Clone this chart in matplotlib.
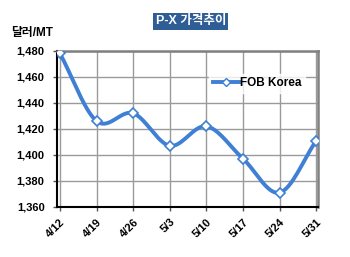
import matplotlib
matplotlib.use("Agg")
import matplotlib.pyplot as plt
import numpy as np

plt.rcParams['font.family'] = ['Liberation Sans', 'Noto Sans CJK KR', 'DejaVu Sans']

# 데이터
dates = ['4/12', '4/19', '4/26', '5/3', '5/10', '5/17', '5/24', '5/31']
fob_korea = [1478, 1426, 1432, 1407, 1422, 1397, 1371, 1411]

blue = '#3f7fd4'


def smooth(xs, ys, n=20):
    # Catmull-Rom 곡선 (엑셀 부드러운 선 흉내)
    xs = np.asarray(xs, float)
    ys = np.asarray(ys, float)
    px = np.concatenate([[2 * xs[0] - xs[1]], xs, [2 * xs[-1] - xs[-2]]])
    py = np.concatenate([[2 * ys[0] - ys[1]], ys, [2 * ys[-1] - ys[-2]]])
    ox, oy = [], []
    t = np.linspace(0, 1, n)
    for i in range(1, len(px) - 2):
        for p, o in ((px, ox), (py, oy)):
            p0, p1, p2, p3 = p[i - 1], p[i], p[i + 1], p[i + 2]
            o.extend(0.5 * (2 * p1 + (-p0 + p2) * t
                            + (2 * p0 - 5 * p1 + 4 * p2 - p3) * t ** 2
                            + (-p0 + 3 * p1 - 3 * p2 + p3) * t ** 3))
    return ox, oy


fig = plt.figure(figsize=(3.5, 2.57), dpi=100)
ax = fig.add_axes([0.163, 0.195, 0.746, 0.607])

x = np.arange(len(dates))
sx, sy = smooth(x, fob_korea)
ax.plot(sx, sy, color=blue, lw=2.8, solid_capstyle='round', zorder=3)
ax.plot(x, fob_korea, ls='none', marker='D', ms=5, mfc='white', mec=blue, mew=1.2, zorder=4)
# 범례용
ax.plot([], [], color=blue, lw=2.8, marker='D', ms=4, mfc='white', mec=blue, label='FOB Korea')

ax.set_xlim(-0.08, 7.05)
ax.set_ylim(1360, 1480)
ax.set_yticks(np.arange(1360, 1481, 20))
ax.set_yticklabels([f'{v:,}' for v in range(1360, 1481, 20)], fontsize=8, fontweight='bold')
ax.set_xticks(x)
ax.set_xticklabels(dates, rotation=45, ha='right', rotation_mode='anchor', fontsize=8, fontweight='bold')
ax.tick_params(axis='both', length=3, width=1, color='#555555')
ax.tick_params(axis='y', pad=6)
ax.tick_params(axis='x', pad=4)

ax.grid(True, color='#9a9a9a', lw=1)
ax.set_axisbelow(True)
for s in ['left', 'bottom']:
    ax.spines[s].set_color('black')
    ax.spines[s].set_linewidth(1.5)
for s in ['top', 'right']:
    ax.spines[s].set_color('#808080')
    ax.spines[s].set_linewidth(1.8)

leg = ax.legend(loc='upper left', bbox_to_anchor=(0.56, 0.89), frameon=True, fancybox=False,
                handlelength=2.2, borderpad=0.3, handletextpad=0.1, prop={'weight': 'bold', 'size': 8.5})
leg.get_frame().set_facecolor('white')
leg.get_frame().set_edgecolor('white')

fig.text(0.545, 0.918, 'P-X 가격추이', ha='center', va='center', color='white', fontsize=9,
         fontweight='bold', bbox=dict(boxstyle='square,pad=0.2', fc='#2f5d96', ec='none'))
fig.text(0.033, 0.872, '달러/MT', ha='left', va='center', fontsize=8.5, fontweight='bold')

fig.savefig('out.png', dpi=100)
